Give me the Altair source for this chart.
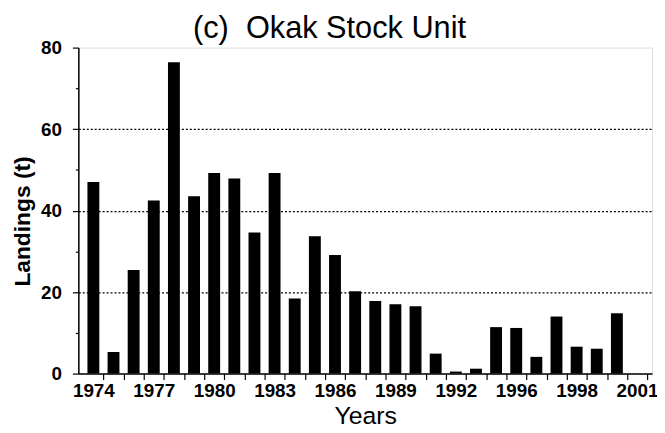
import altair as alt
import pandas as pd

years = list(range(1974, 2001))
landings = [47.0, 5.3, 25.4, 42.5, 76.4, 43.5, 49.2, 47.9, 34.6, 49.2,
            18.4, 33.7, 29.1, 20.2, 17.8, 17.0, 16.5, 4.9, 0.5, 1.2,
            11.4, 11.2, 4.1, 14.0, 6.6, 6.1, 14.8]

label_years = [1974, 1977, 1980, 1983, 1986, 1989, 1992, 1995, 1998, 2001]
label_texts = ["1974", "1977", "1980", "1983", "1986", "1989", "1992", "1996", "1998", "2001"]
axis_years = list(range(1974, 2002))
y_ticks = [0, 10, 20, 30, 40, 50, 60, 70, 80]

df = pd.DataFrame({"year": years, "landings": landings})

W, H = 579, 329
x_lo, x_hi = 1973.5, 2001.5
half_slot = W / (x_hi - x_lo) / 2

label_expr = "{" + ", ".join(f"'{y}': '{t}'" for y, t in zip(label_years, label_texts)) + "}[datum.value] || ''"

FONT = "Liberation Sans"

chart = alt.Chart(df).mark_bar(color="black", width=12).encode(
    x=alt.X("year:Q",
            scale=alt.Scale(domain=[x_lo, x_hi], nice=False, zero=False),
            axis=alt.Axis(values=axis_years, labelExpr=label_expr,
                          tickOffset=half_slot, labelOffset=-half_slot,
                          tickSize=6, tickColor="black", tickWidth=1.2,
                          domainColor="black", domainWidth=1.5,
                          labelFont=FONT, labelFontSize=19, labelFontWeight="bold",
                          labelColor="black", labelPadding=2, labelOverlap=False,
                          labelFlush=False, grid=False,
                          title="Years", titleFont=FONT, titleFontSize=25,
                          titleFontWeight="normal", titleColor="black",
                          titleBaseline="alphabetic", titleY=50)),
    y=alt.Y("landings:Q",
            scale=alt.Scale(domain=[0, 80], nice=False),
            axis=alt.Axis(values=y_ticks,
                          labelExpr="datum.value % 20 == 0 ? datum.value : ''",
                          tickSize={"condition": {"test": "datum.value % 20 == 0", "value": 6}, "value": 3},
                          tickColor="black", tickWidth=1.2,
                          domainColor="black", domainWidth=1.5,
                          labelFont=FONT, labelFontSize=19, labelFontWeight="bold",
                          labelColor="black", labelPadding=11,
                          grid=True, gridColor="black", gridWidth=1.2, gridDash=[2, 2],
                          gridOpacity={"condition": {"test": "datum.value % 20 == 0 && datum.value > 0 && datum.value < 80", "value": 1}, "value": 0},
                          title="Landings (t)", titleFont=FONT, titleFontSize=23,
                          titleFontWeight="bold", titleColor="black",
                          titleX=-44, titleY=175, titleAngle=270, titleBaseline="bottom")),
).properties(
    width=W, height=H,
    title=alt.TitleParams("(c)\u00a0\u00a0Okak Stock Unit", font=FONT, fontSize=31,
                          fontWeight="normal", color="black", anchor="middle",
                          dx=-36, dy=34, baseline="alphabetic", offset=4),
    autosize=alt.AutoSizeParams(type="none"),
    padding={"left": 71, "top": 38, "right": 5, "bottom": 58},
).configure_view(stroke="black", strokeWidth=1.5).configure(background="white")

chart.save("out.html", embed_options={"renderer": "svg", "actions": False})
